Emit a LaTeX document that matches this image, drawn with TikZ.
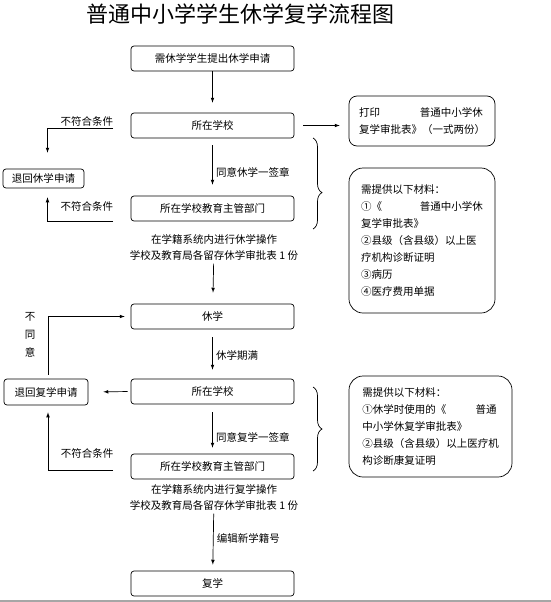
\documentclass[tikz,border=0pt]{standalone}
\usepackage{fontspec}
\setmainfont{Noto Sans CJK SC}
\usetikzlibrary{decorations.pathreplacing}
\begin{document}
\begin{tikzpicture}[x=1pt,y=-1pt,>=latex,line width=0.7pt,
    box/.style={draw,rounded corners=3pt,minimum width=163pt,minimum height=25pt,inner sep=0pt,font=\fontsize{10.5}{12}\selectfont},
    back/.style={draw,rounded corners=3pt,inner sep=0pt,font=\fontsize{10.5}{12}\selectfont},
    note/.style={draw,rounded corners=14pt,align=left,inner sep=0pt,font=\fontsize{10.5}{17}\selectfont},
    step text/.style={align=center,font=\fontsize{10.5}{16}\selectfont},
    lbl/.style={font=\fontsize{10.5}{12}\selectfont},
    brc/.style={decorate,decoration={brace,amplitude=9pt,aspect=#1}}]
        \useasboundingbox (0,0) rectangle (551,602);
        %% Title
        \node (title) at (240,14) {\fontsize{22}{24}\selectfont 普通中小学学生休学复学流程图};
        %% Main column
        \node[box] (apply) at (212.5,58.5) {需休学学生提出休学申请};
        \node[box] (school1) at (212.5,125.5) {所在学校};
        \node[box] (bureau1) at (212.5,208.5) {所在学校教育主管部门};
        \node[step text] (op1) at (214,247) {在学籍系统内进行休学操作\\学校及教育局各留存休学审批表 1 份};
        \node[box] (leave) at (212.5,316.5) {休学};
        \node[box] (school2) at (212.5,391.5) {所在学校};
        \node[box] (bureau2) at (212.5,466.5) {所在学校教育主管部门};
        \node[step text] (op2) at (214,497) {在学籍系统内进行复学操作\\学校及教育局各留存休学审批表 1 份};
        \node[box] (resume) at (212.5,583.5) {复学};
        %% Returned applications
        \node[back,minimum width=81pt,minimum height=19pt] (ret1) at (43.5,178.5) {退回休学申请};
        \node[back,minimum width=84pt,minimum height=26pt] (ret2) at (46,392) {退回复学申请};
        %% Notes
        \node[note,minimum width=146pt,minimum height=50pt,rounded corners=8pt] (print) at (422,121)
            {打印\hspace{3.8em}普通中小学休\\复学审批表》（一式两份）};
        \node[note,minimum width=146pt,minimum height=145pt] (need1) at (422,240.5)
            {需提供以下材料：\\①《\hspace{3.6em}普通中小学休\\复学审批表》\\②县级（含县级）以上医\\疗机构诊断证明\\③病历\\④医疗费用单据};
        \node[note,minimum width=163pt,minimum height=101pt] (need2) at (430.5,426.5)
            {需提供以下材料：\\①休学时使用的《\hspace{2.8em}普通\\中小学休复学审批表》\\②县级（含县级）以上医疗机\\构诊断康复证明};
        \coordinate (f1) at (113,128);
        \coordinate (f2) at (113,221);
        \coordinate (f3) at (113,470);
        %% Arrows
        \draw[->,shorten >=10pt] (apply) -- (school1);
        \draw[->,shorten <=7pt,shorten >=11pt] (school1) -- (bureau1) node[lbl,right,pos=0.59] {同意休学一签章};
        \draw[->,shorten >=11pt] (op1) -- (leave);
        \draw[->,shorten <=8pt,shorten >=9pt] (leave) -- (school2) node[lbl,right,pos=0.52] {休学期满};
        \draw[->,shorten <=8pt,shorten >=6pt] (school2) -- (bureau2) node[lbl,right,pos=0.68] {同意复学一签章};
        \draw[->,shorten >=6pt] (op2) -- (resume) node[lbl,right,pos=0.44] {编辑新学籍号};
        \draw[->,shorten <=9pt,shorten >=9pt] (school1.east) -- (school1.east -| print.west);
        %% Back loops
        \draw[->,shorten >=16pt] (f1) -| ([xshift=4pt]ret1.north) node[lbl,above,inner sep=1pt,pos=0.2] {不符合条件};
        \draw[->,shorten >=9pt] (f2) -| ([xshift=4pt]ret1.south) node[lbl,above=6pt,pos=0.2] {不符合条件};
        \draw[->,shorten <=3pt,shorten >=15pt] (school2.west) -- (ret2.east);
        \draw[->,shorten <=4pt,shorten >=6pt] ([xshift=2pt]ret2.north) |- (leave.west)
            node[align=center,left=9pt,pos=0.35,font=\fontsize{10.5}{18}\selectfont] {不\\同\\意};
        \draw[->,shorten >=7pt] (f3) -| ([xshift=2pt]ret2.south) node[lbl,above=8pt,pos=0.2] {不符合条件};
        %% Braces
        \draw[brc=0.6] (313,138) -- (313,229);
        \draw[brc=0.5] (313,387) -- (313,471);
        \fill[gray!70] (0,599.5) rectangle (551,602);
\end{tikzpicture}
\end{document}
